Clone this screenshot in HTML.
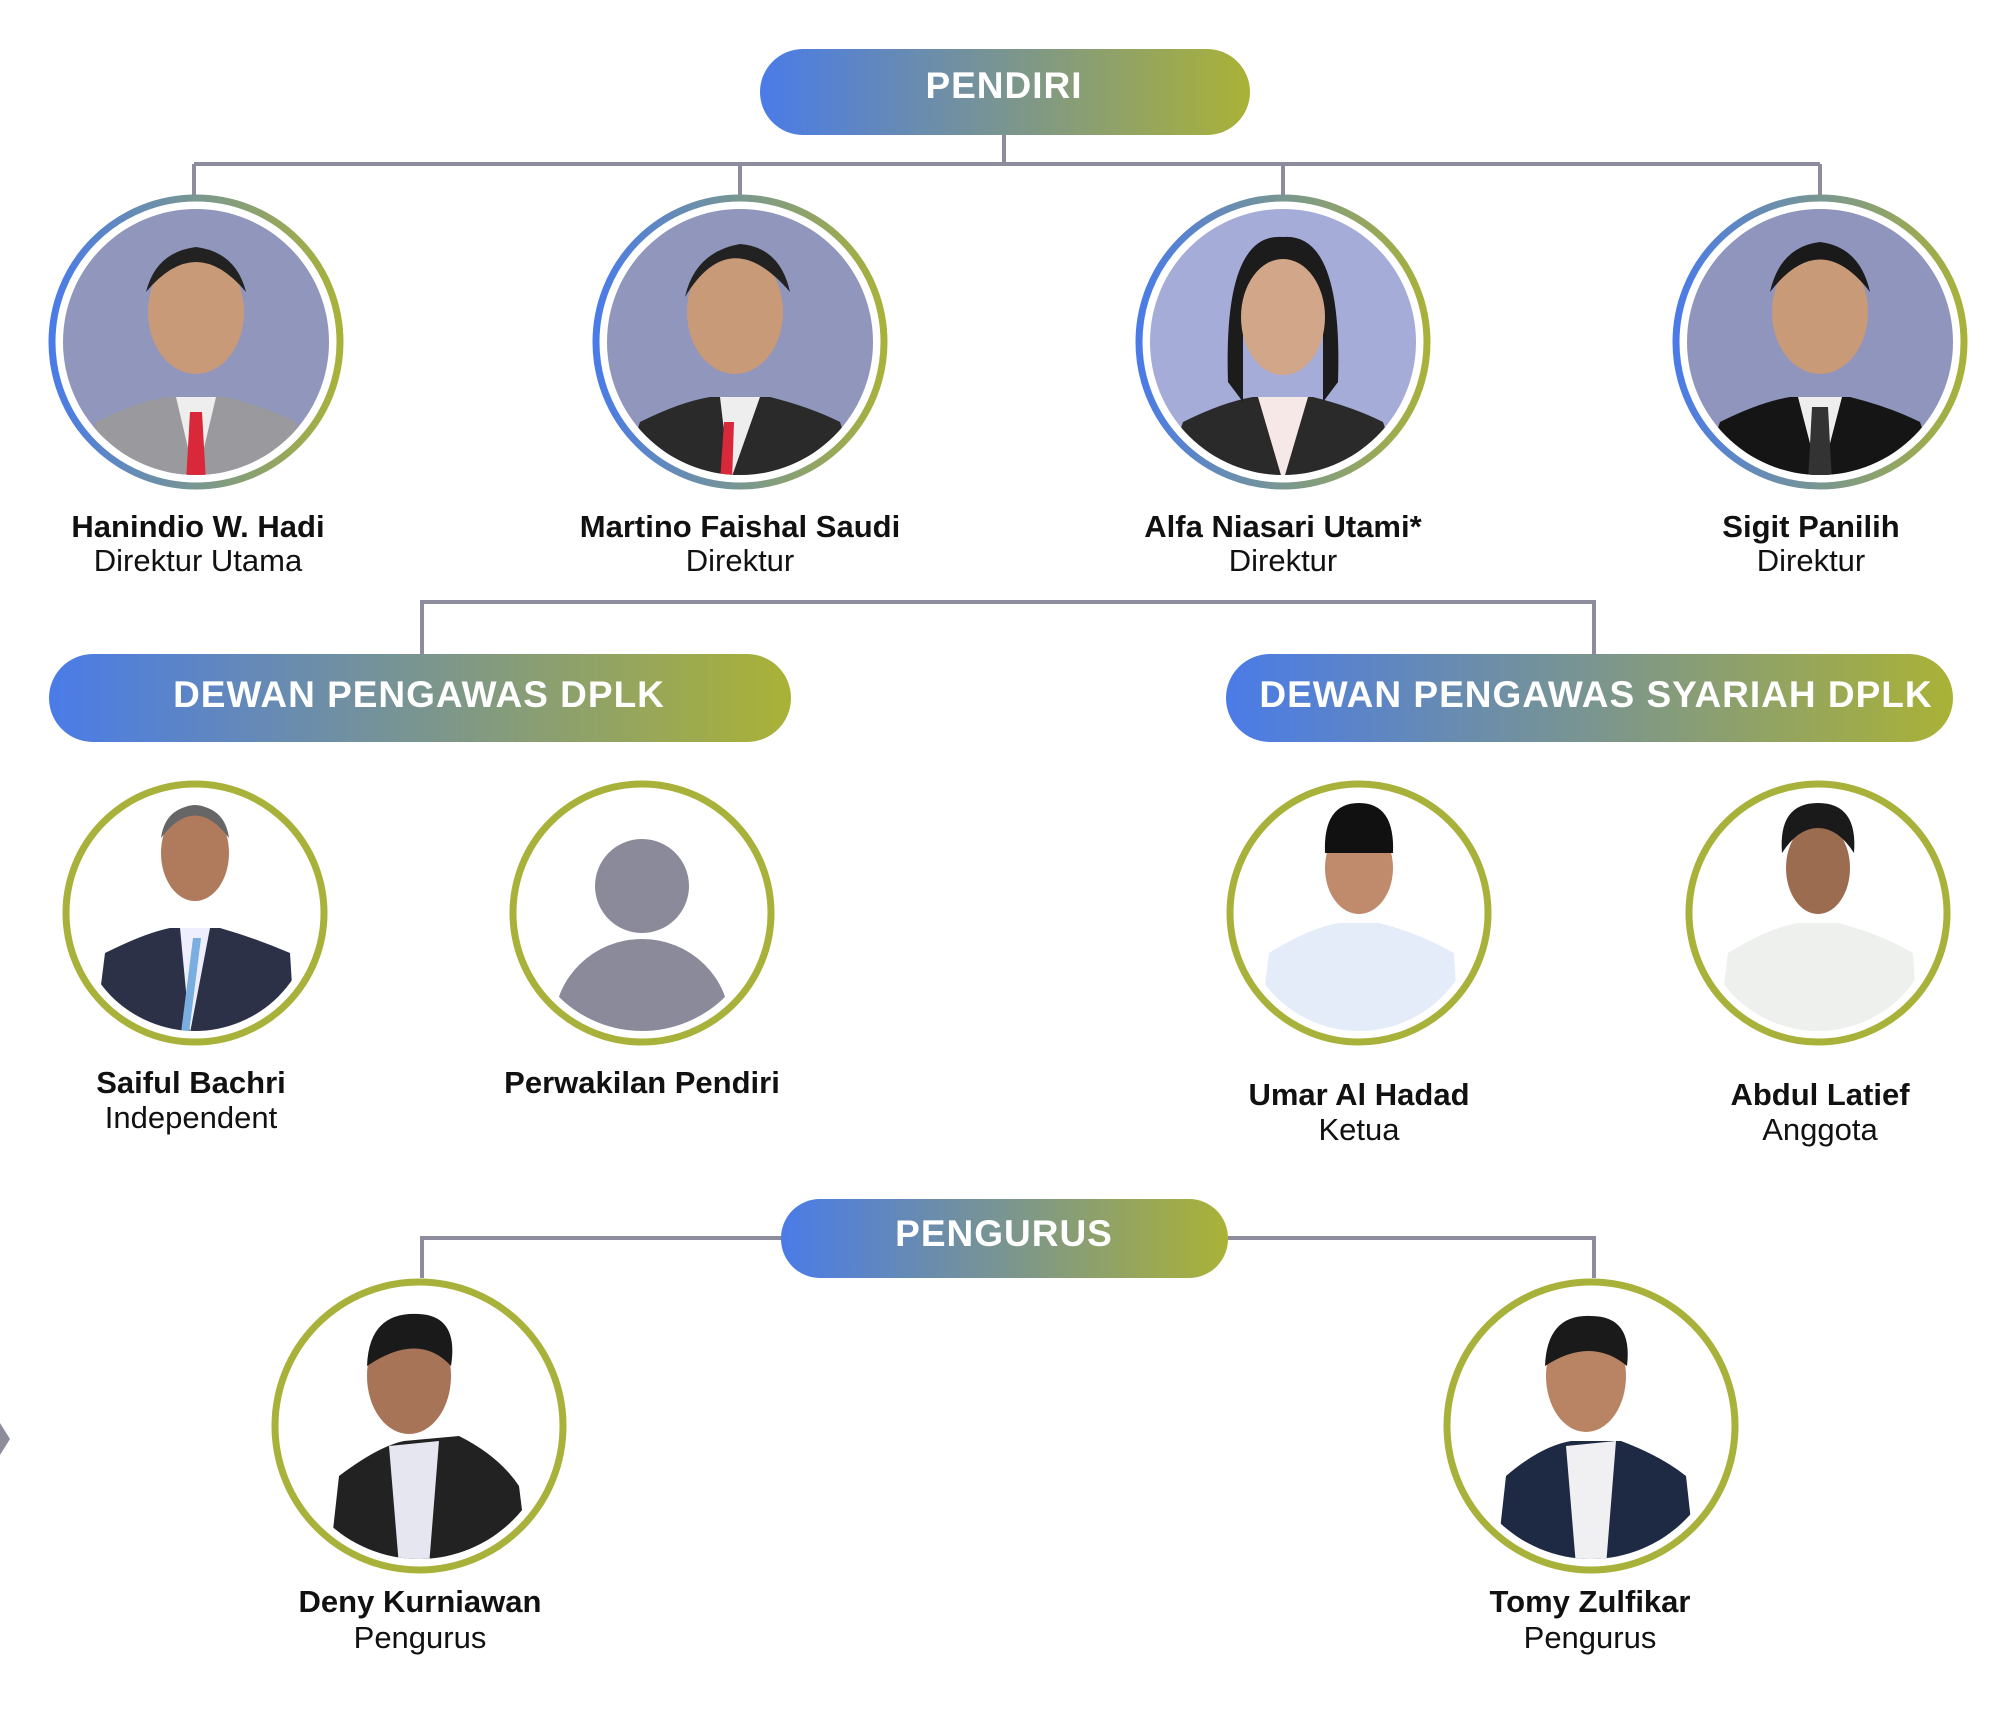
<!DOCTYPE html>
<html><head><meta charset="utf-8"><style>
html,body{margin:0;padding:0;background:#fff;}
svg{display:block}
text{font-family:"Liberation Sans",Arial,sans-serif;}
.n{font-weight:bold;font-size:31px;fill:#111;text-anchor:middle}
.r{font-size:31px;fill:#111;text-anchor:middle}
.p{font-weight:bold;font-size:37px;fill:#fff;text-anchor:middle;letter-spacing:1px}
</style></head><body>
<svg width="2000" height="1714" viewBox="0 0 2000 1714" xmlns="http://www.w3.org/2000/svg">
<defs>
<linearGradient id="g" x1="0" x2="1" y1="0" y2="0"><stop offset="0" stop-color="#4a7be8"/><stop offset="0.5" stop-color="#7a9590"/><stop offset="1" stop-color="#aab236"/></linearGradient>
<linearGradient id="rg" x1="0" x2="1" y1="0" y2="0"><stop offset="0" stop-color="#4a7be8"/><stop offset="1" stop-color="#a8b23a"/></linearGradient>
<clipPath id="c1"><circle r="133"/></clipPath>
<clipPath id="c2"><circle r="118"/></clipPath>
</defs>
<g stroke="#8c8c9c" stroke-width="4" fill="none">
<path d="M1004 135V164M194 164H1820M194 164V196M740 164V196M1283 164V196M1820 164V196"/>
<path d="M422 654V602H1594V654"/>
<path d="M422 1278V1238H781M1228 1238H1594V1278"/>
</g>
<rect x="760" y="49" width="490" height="86" rx="43" fill="url(#g)"/>
<text class="p" x="1004" y="98">PENDIRI</text>
<rect x="49" y="654" width="742" height="88" rx="44" fill="url(#g)"/>
<text class="p" x="419" y="707">DEWAN PENGAWAS DPLK</text>
<rect x="1226" y="654" width="727" height="88" rx="44" fill="url(#g)"/>
<text class="p" x="1596" y="707">DEWAN PENGAWAS SYARIAH DPLK</text>
<rect x="781" y="1199" width="447" height="79" rx="39" fill="url(#g)"/>
<text class="p" x="1004" y="1246">PENGURUS</text>

<!-- row 1 -->
<g transform="translate(196,342)"><circle r="144" fill="#fff" stroke="url(#rg)" stroke-width="7"/><g clip-path="url(#c1)"><rect x="-140" y="-140" width="280" height="280" fill="#9096bc"/><path d="M-120 140 L-100 80 Q-60 60 -30 55 L30 55 Q70 65 100 80 L120 140Z" fill="#9a9a9e"/><path d="M-20 55 L0 140 L20 55Z" fill="#eee"/><path d="M-6 70 L6 70 L10 140 L-10 140Z" fill="#d8283a"/><ellipse cx="0" cy="-30" rx="48" ry="62" fill="#c99a78"/><path d="M-50 -50 Q0 -110 50 -50 Q40 -90 0 -95 Q-40 -90 -50 -50Z" fill="#222"/></g></g>
<g transform="translate(740,342)"><circle r="144" fill="#fff" stroke="url(#rg)" stroke-width="7"/><g clip-path="url(#c1)"><rect x="-140" y="-140" width="280" height="280" fill="#9096bc"/><path d="M-120 140 L-100 80 Q-60 60 -30 55 L30 55 Q70 65 100 80 L120 140Z" fill="#2a2a2a"/><path d="M-20 55 L-10 140 L20 55Z" fill="#eee"/><path d="M-16 80 L-6 80 L-8 140 L-20 140Z" fill="#d8283a"/><ellipse cx="-5" cy="-30" rx="48" ry="62" fill="#c99a78"/><path d="M-55 -45 Q-10 -120 50 -50 Q40 -95 0 -98 Q-45 -90 -55 -45Z" fill="#222"/></g></g>
<g transform="translate(1283,342)"><circle r="144" fill="#fff" stroke="url(#rg)" stroke-width="7"/><g clip-path="url(#c1)"><rect x="-140" y="-140" width="280" height="280" fill="#a6acd8"/><path d="M-120 140 L-100 80 Q-60 60 -30 55 L30 55 Q70 65 100 80 L120 140Z" fill="#2a2a2a"/><path d="M-25 55 L0 140 L25 55Z" fill="#f5e8e6"/><path d="M-55 40 Q-60 -110 0 -105 Q60 -110 55 40 L40 60 L40 -40 L-40 -40 L-40 60Z" fill="#1c1c1c"/><ellipse cx="0" cy="-25" rx="42" ry="58" fill="#d2a688"/></g></g>
<g transform="translate(1820,342)"><circle r="144" fill="#fff" stroke="url(#rg)" stroke-width="7"/><g clip-path="url(#c1)"><rect x="-140" y="-140" width="280" height="280" fill="#8f95bc"/><path d="M-120 140 L-100 80 Q-60 60 -30 55 L30 55 Q70 65 100 80 L120 140Z" fill="#151515"/><path d="M-22 55 L0 140 L22 55Z" fill="#eee"/><path d="M-8 65 L8 65 L12 140 L-12 140Z" fill="#333"/><ellipse cx="0" cy="-30" rx="48" ry="62" fill="#c99a78"/><path d="M-50 -50 Q0 -115 50 -50 Q40 -95 0 -100 Q-40 -95 -50 -50Z" fill="#1a1a1a"/></g></g>
<text class="n" x="198" y="537">Hanindio W. Hadi</text><text class="r" x="198" y="571">Direktur Utama</text>
<text class="n" x="740" y="537">Martino Faishal Saudi</text><text class="r" x="740" y="571">Direktur</text>
<text class="n" x="1283" y="537">Alfa Niasari Utami*</text><text class="r" x="1283" y="571">Direktur</text>
<text class="n" x="1811" y="537">Sigit Panilih</text><text class="r" x="1811" y="571">Direktur</text>

<!-- row 2 -->
<g transform="translate(195,913)"><circle r="129" fill="#fff" stroke="#a8b23a" stroke-width="7"/><g clip-path="url(#c2)"><path d="M-100 120 L-90 40 Q-50 20 -25 15 L25 15 Q60 25 95 40 L100 120Z" fill="#2c3148"/><path d="M-15 15 L-5 120 L15 15Z" fill="#eef"/><path d="M-2 25 L6 25 L-6 120 L-14 120Z" fill="#7aaee0"/><ellipse cx="0" cy="-60" rx="34" ry="48" fill="#b07a5c"/><path d="M-34 -75 Q0 -120 34 -75 Q30 -105 0 -108 Q-30 -105 -34 -75Z" fill="#666"/></g></g>
<g transform="translate(642,913)"><circle r="129" fill="#fff" stroke="#a8b23a" stroke-width="7"/><g clip-path="url(#c2)"><circle cx="0" cy="-27" r="47" fill="#8a8a9a"/><ellipse cx="0" cy="112" rx="88" ry="86" fill="#8a8a9a"/></g></g>
<g transform="translate(1359,913)"><circle r="129" fill="#fff" stroke="#a8b23a" stroke-width="7"/><g clip-path="url(#c2)"><path d="M-100 120 L-90 40 Q-50 15 -20 10 L20 10 Q60 20 95 40 L100 120Z" fill="#e4ecfa"/><ellipse cx="0" cy="-45" rx="34" ry="46" fill="#c08a6c"/><path d="M-34 -60 Q-36 -110 0 -110 Q36 -110 34 -60Z" fill="#111"/></g></g>
<g transform="translate(1818,913)"><circle r="129" fill="#fff" stroke="#a8b23a" stroke-width="7"/><g clip-path="url(#c2)"><path d="M-100 120 L-90 40 Q-50 15 -20 10 L20 10 Q60 20 95 40 L100 120Z" fill="#eef0ee"/><ellipse cx="0" cy="-45" rx="32" ry="46" fill="#9c6c50"/><path d="M-36 -60 Q-40 -110 0 -110 Q40 -110 36 -60 Q20 -85 0 -85 Q-20 -85 -36 -60Z" fill="#1a1a1a"/></g></g>
<text class="n" x="191" y="1093">Saiful Bachri</text><text class="r" x="191" y="1128">Independent</text>
<text class="n" x="642" y="1093">Perwakilan Pendiri</text>
<text class="n" x="1359" y="1105">Umar Al Hadad</text><text class="r" x="1359" y="1140">Ketua</text>
<text class="n" x="1820" y="1105">Abdul Latief</text><text class="r" x="1820" y="1140">Anggota</text>

<!-- row 3 -->
<g transform="translate(419,1426)"><circle r="144" fill="#fff" stroke="#a8b23a" stroke-width="7"/><g clip-path="url(#c1)"><path d="M-90 140 L-80 50 Q-40 20 -15 15 L40 10 Q80 30 100 60 L110 140Z" fill="#222"/><path d="M-30 20 L-20 140 L10 140 L20 15Z" fill="#e6e6f0"/><ellipse cx="-10" cy="-50" rx="42" ry="58" fill="#a87458"/><path d="M-52 -60 Q-50 -115 0 -112 Q40 -110 32 -60 Q0 -95 -52 -60Z" fill="#1a1a1a"/></g></g>
<g transform="translate(1591,1426)"><circle r="144" fill="#fff" stroke="#a8b23a" stroke-width="7"/><g clip-path="url(#c1)"><path d="M-95 140 L-85 50 Q-50 20 -20 15 L30 15 Q70 30 95 50 L105 140Z" fill="#1e2a44"/><path d="M-25 20 L-15 140 L15 140 L25 15Z" fill="#f0f0f2"/><ellipse cx="-5" cy="-50" rx="40" ry="56" fill="#b88464"/><path d="M-46 -60 Q-44 -112 0 -110 Q42 -110 36 -60 Q0 -90 -46 -60Z" fill="#1a1a1a"/></g></g>
<text class="n" x="420" y="1612">Deny Kurniawan</text><text class="r" x="420" y="1648">Pengurus</text>
<text class="n" x="1590" y="1612">Tomy Zulfikar</text><text class="r" x="1590" y="1648">Pengurus</text>

<path d="M0 1423 L10 1439 L0 1455Z" fill="#8c8c9c"/>
</svg>
</body></html>
